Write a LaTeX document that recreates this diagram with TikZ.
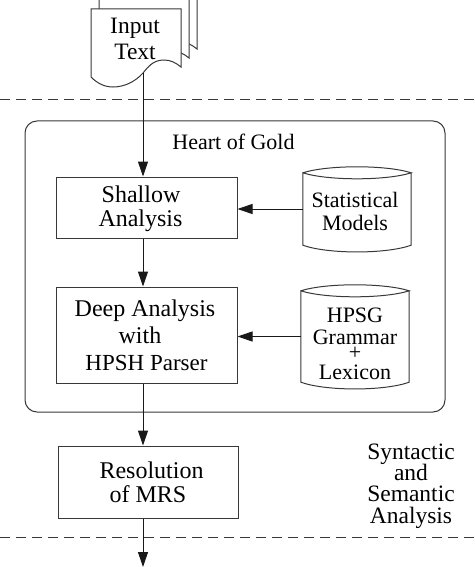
\documentclass[tikz,border=0pt]{standalone}
\usepackage{fontspec}
\setmainfont{Liberation Serif}
\usepackage{xcolor}
\usetikzlibrary{arrows.meta,positioning}

% one sheet of the paper stack: x shift, y shift, top edge
\newcommand{\sheet}[3]{
  \draw[outline, fill=white, shift={(#1,#2)}] (91,#3) -- (181,#3) -- (181,67)
    .. controls (176,63) and (171,60) .. (164,60)
    .. controls (153,60) and (148,67) .. (143,73)
    .. controls (135,82) and (124,87) .. (113,87)
    .. controls (104,87) and (97,83) .. (91,77) -- cycle;
}
% outline of a data store round a node
\newcommand{\drum}[1]{
  \draw[outline] (#1.north west) .. controls +(25,-8) and +(-25,-8) .. (#1.north east)
    .. controls +(-25,8) and +(25,8) .. (#1.north west)
    -- (#1.south west) .. controls +(25,9) and +(-25,9) .. (#1.south east)
    -- (#1.north east);
}

\begin{document}
\begin{tikzpicture}[
    x=1pt, y=-1pt,
    outline/.style={line width=1pt, black!78},
    stepbox/.style={rectangle, draw=black!78, line width=1pt, align=center,
                    minimum width=181pt, inner sep=0pt, font=\fontsize{24}{27}\selectfont},
    store/.style={rectangle, align=center, inner sep=0pt, font=\fontsize{22}{23}\selectfont},
    caption/.style={align=center, inner sep=0pt, font=\fontsize{23.5}{21.5}\selectfont},
    arrow/.style={-{Triangle[length=15pt,width=10pt]}, line width=1pt, black!90},
    divider/.style={line width=1pt, black!78, dash pattern=on 10pt off 6pt}
]
\useasboundingbox (0,0) rectangle (474,567);

\draw[divider] (0,100) -- (474,100);
\draw[divider] (0,537) -- (474,537);

\node[draw=black!78, line width=1pt, rounded corners=12pt, minimum width=420pt, minimum height=291pt] (heart) at (235,266.5) {};
\node[inner sep=0pt, font=\fontsize{22}{24}\selectfont] (heartname) at (233.5,142) {Heart of Gold};

% boxes of the pipeline
\node[stepbox, minimum height=61pt, font=\fontsize{24}{24}\selectfont] (shallow) at (146.5,207.5) {\rule{0pt}{20pt}Shallow\kern11pt\\Analysis\kern12pt};
\node[stepbox, minimum height=96pt] (deep) at (146.5,335) {Deep Analysis\kern3pt\\with\kern13pt\\{\fontsize{23}{27}\selectfont HPSH Parser}};
\node[stepbox, minimum height=72pt, minimum width=180pt, font=\fontsize{24}{24}\selectfont] (resolution) at (148,482) {\kern7pt Resolution\\of MRS};

% stores
\node[store, minimum width=108pt, minimum height=72pt] (models) at (357,209) {\rule{0pt}{21pt}Statistical\kern4pt\\Models\kern4pt};
\node[store, minimum width=108pt, minimum height=91pt] (hpsg) at (355,336.5) {\rule{0pt}{29pt}HPSG\\[-1pt]Grammar\\[-8pt]+\\[-3pt]Lexicon};
\drum{models}
\drum{hpsg}

\node[caption] (task) at (411,486) {Syntactic\\and\\Semantic\\Analysis};

% stack of input pages
\sheet{16}{-18}{-5}
\sheet{8}{-9}{-5}
\sheet{0}{0}{9}
\node[inner sep=0pt, align=center, minimum width=90pt, minimum height=64pt, font=\fontsize{23.5}{26}\selectfont, text depth=5pt] (input) at (135,41) {Input\\Text};

\coordinate (flow) at (143,0);
\coordinate (out) at (143,567);

\draw[arrow] (input.south -| flow) -- (shallow.north -| flow);
\draw[arrow] (shallow.south -| flow) -- (deep.north -| flow);
\draw[arrow] (deep.south -| flow) -- (resolution.north -| flow);
\draw[arrow] (resolution.south -| flow) -- (out);
\draw[arrow] (models.west) -- (models.west -| shallow.east);
\draw[arrow] (hpsg.west) -- (hpsg.west -| deep.east);

\end{tikzpicture}
\end{document}
